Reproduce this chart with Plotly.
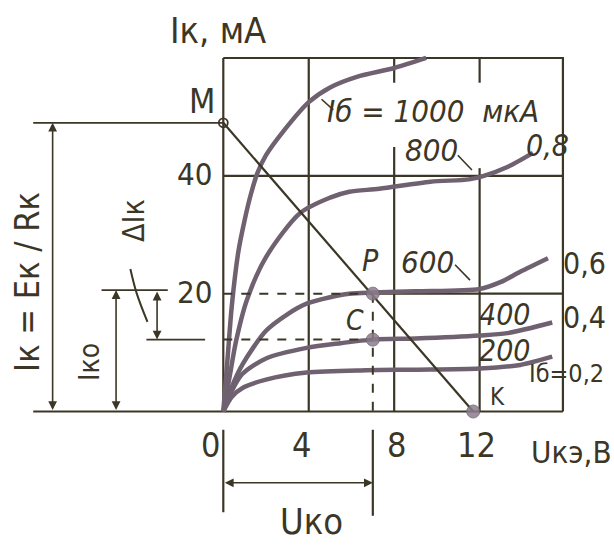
import plotly.graph_objects as go

# Output characteristics of a transistor: collector current Iк (mA) versus
# collector-emitter voltage Uкэ (V) for several base currents Iб (µA).
U_1000 = [0, 0.2, 0.4, 0.7, 1.0, 1.3, 1.6, 2.0, 2.8, 4.0, 5.0, 6.25, 8.0, 9.5]
I_1000 = [0, 9, 18, 27, 32.5, 37, 40.5, 43.5, 47.5, 52.5, 55, 56.8, 58.3, 60]

U_800 = [0, 0.3, 0.6, 1.1, 2.0, 3.6, 5.0, 5.9, 7.3, 9.7, 11.5, 12.2, 13.3, 14.5]
I_800 = [0, 6, 12, 18.9, 26.2, 33.7, 36.3, 37.3, 37.8, 39, 39.4, 40, 41.5, 43.9]

U_600 = [0, 0.4, 0.9, 2.0, 3.0, 3.9, 5.0, 5.9, 7.0, 9.0, 12.0, 13.0, 13.9, 15.2]
I_600 = [0, 4.2, 8, 13.7, 16.5, 18.3, 19.4, 20.0, 20.2, 20.4, 20.8, 22.0, 23.7, 26.0]

U_400 = [0, 0.4, 0.9, 2.0, 3.9, 5.5, 7.0, 9.0, 12.0, 13.3, 15.4]
I_400 = [0, 3.5, 6.4, 9.0, 10.8, 11.6, 12.2, 12.4, 12.9, 13.3, 15.1]

U_200 = [0, 0.4, 0.9, 2.0, 3.9, 6.7, 9.0, 12.0, 13.9, 15.4]
I_200 = [0, 2.5, 4.0, 5.4, 6.6, 7.0, 7.1, 7.3, 7.9, 9.3]

# Load line M–K and the operating points
E_K = 11.7          # K: Uкэ at Iк = 0
I_M = 49            # M: Iк = Eк / Rк
U_KO = 7.0          # quiescent voltage Uко
I_KO = 20.0         # quiescent current Iко (point P)
I_C = 12.2          # point C on the 400 µA curve

U_TICKS = [0, 4, 8, 12]
I_TICKS = [20, 40]
U_MAX, I_MAX = 15.9, 60

INK = "#3c3626"
CURVE = "#6f6170"
DOT = "#8b7d8d"
FONT = "DejaVu Sans Condensed, Liberation Sans Narrow, DejaVu Sans, sans-serif"

fig = go.Figure()


def seg(x, y, dash="solid", width=2.2, color=INK):
    fig.add_trace(go.Scatter(x=x, y=y, mode="lines", hoverinfo="skip",
                             line=dict(color=color, width=width, dash=dash)))


# frame and grid
seg([0, 0], [0, I_MAX])
seg([0, U_MAX, U_MAX], [I_MAX, I_MAX, 0])
seg([-8.9, U_MAX], [0, 0])
seg([4, 4], [0, I_MAX])
seg([8, 8], [0, 44.9]); seg([8, 8], [55.8, I_MAX])
seg([12, 12], [0, 41.3]); seg([12, 12], [55.8, I_MAX])
seg([0, U_MAX], [40, 40])
seg([U_KO, U_MAX], [I_KO, I_KO])

# characteristic curves
for u, i in [(U_1000, I_1000), (U_800, I_800), (U_600, I_600),
             (U_400, I_400), (U_200, I_200)]:
    fig.add_trace(go.Scatter(x=u, y=i, mode="lines", hoverinfo="skip",
                             line=dict(color=CURVE, width=4.5, shape="spline",
                                       smoothing=0.8)))

# load line
seg([0, E_K], [I_M, 0], width=2.2)

# construction lines for the operating point
seg([0, U_KO], [I_KO, I_KO], dash="dash", width=2)
seg([0, U_KO], [I_C, I_C], dash="dash", width=2)
seg([U_KO, U_KO], [I_KO, 0], dash="dash", width=2)
seg([U_KO, U_KO], [-3.1, -17.7])
seg([0, 0], [-3.1, -17.1])
seg([-8.9, 0], [I_M, I_M], width=1.8)
seg([-5.7, -2.6], [20.6, 20.6], width=1.8)
seg([-3.6, -0.85], [12.2, 12.2], width=1.8)
fig.add_trace(go.Scatter(x=[-4.35, -4.05, -3.55], y=[24.2, 20.0, 15.2],
                         mode="lines", hoverinfo="skip",
                         line=dict(color=INK, width=2, shape="spline")))

# points M, P, C, K
fig.add_trace(go.Scatter(x=[0], y=[I_M], mode="markers", hoverinfo="skip",
                         marker=dict(size=9, color="rgba(0,0,0,0)",
                                     line=dict(color=INK, width=1.8))))
fig.add_trace(go.Scatter(x=[U_KO, U_KO, E_K], y=[I_KO, I_C, 0], mode="markers",
                         hoverinfo="skip",
                         marker=dict(size=13, color=DOT, opacity=0.85,
                                     line=dict(color=CURVE, width=1))))


def arrow(x0, y0, x1, y1, both=True):
    fig.add_annotation(x=x1, y=y1, ax=x0, ay=y0, xref="x", yref="y",
                       axref="x", ayref="y", text="", showarrow=True,
                       arrowhead=2, startarrowhead=2, arrowsize=1.1,
                       startarrowsize=1.1, arrowwidth=1.6, arrowcolor=INK,
                       arrowside="end+start" if both else "end")


arrow(-7.99, 0, -7.99, I_M)
arrow(-5.02, 0, -5.02, 20.6)
arrow(-3.1, 20.6, -3.1, 12.2)
arrow(0, -12.1, U_KO, -12.1)

# leaders from the curve labels
seg([4.6, 5.15], [53.0, 51.2], width=1.6)
seg([10.98, 11.64], [43.5, 41.0], width=1.6)
seg([10.85, 11.55], [24.9, 22.3], width=1.6)


def label(text, x, y, size, italic=False, angle=0, xanchor="center", bg=None):
    fig.add_annotation(x=x, y=y, xref="x", yref="y", text=text, showarrow=False,
                       textangle=angle, xanchor=xanchor, yanchor="middle",
                       bgcolor=bg,
                       font=dict(family=FONT, size=size, color=INK,
                                 style="italic" if italic else "normal"))


label("Iк, мА", -0.25, 64.6, 36)
label("M", -1.0, 52.7, 34)
for v in I_TICKS:
    label(str(v), -0.45, v + 0.3, 31, xanchor="right")
for v, dx in zip(U_TICKS, [-0.58, -0.35, 0.13, -0.15]):
    label(str(v), v + dx, -5.6, 34)
label("Uкэ,В", 14.3, -6.9, 31, xanchor="left")
label("Uко", 4.15, -18.6, 36)
label("Iб = 1000  мкА", 9.82, 51.0, 31, italic=True)
label("800", 9.77, 44.4, 31, italic=True)
label("0,8", 15.2, 45.1, 30, italic=True)
label("600", 9.54, 25.4, 31, italic=True)
label("0,6", 16.9, 25.2, 30)
label("P", 6.9, 25.7, 30, italic=True)
label("C", 6.16, 15.5, 28, italic=True)
label("400", 13.19, 16.5, 30, italic=True)
label("0,4", 16.9, 15.9, 30)
label("200", 13.19, 10.4, 30, italic=True)
label("Iб=0,2", 14.2, 6.5, 25, xanchor="left")
label("K", 12.82, 2.5, 24)
label("Iк = Eк / Rк", -9.19, 22.0, 34, angle=-90)
label("Iко", -6.29, 8.4, 28, angle=-90)
label("ΔIк", -4.23, 32.5, 30, angle=-90)

PX_X, PX_Y = 21.36, 5.892
fig.update_layout(
    width=614, height=545, margin=dict(l=0, r=0, t=0, b=0),
    paper_bgcolor="white", plot_bgcolor="white", showlegend=False,
    xaxis=dict(visible=False, range=[-223.3 / PX_X, (614 - 223.3) / PX_X]),
    yaxis=dict(visible=False, range=[-(545 - 411.5) / PX_Y, 411.5 / PX_Y]),
)

fig.write_html("out.html")
